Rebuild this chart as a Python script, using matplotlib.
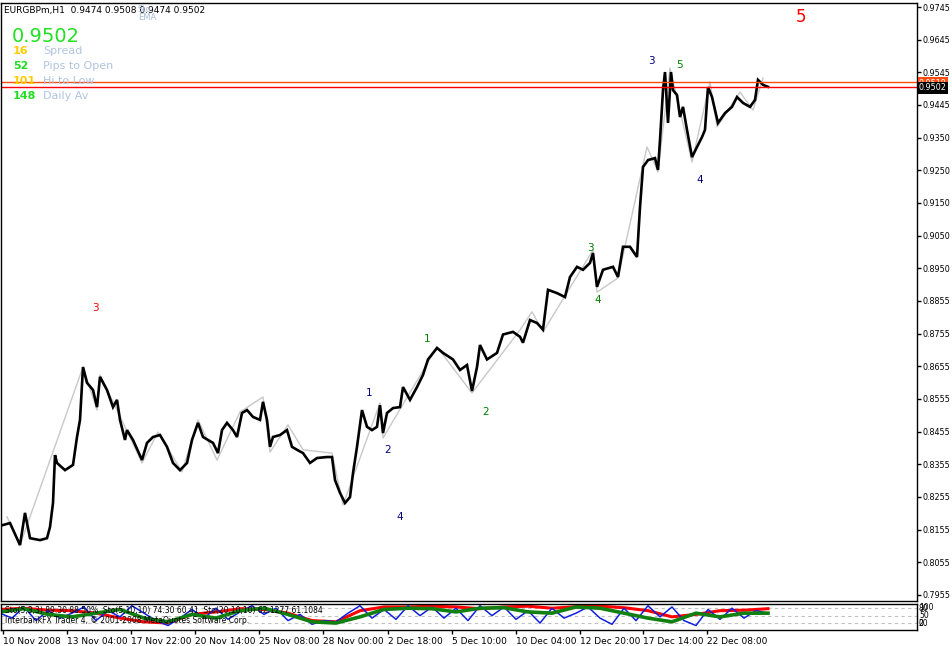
import matplotlib.pyplot as plt

#----------------------Data---------------------------
# bar position (chart pixels) and close price of EURGBPm H1
bar_x = [3, 10, 20, 25, 30, 40, 47, 50, 53, 55, 57, 65, 73, 77, 80, 83, 87, 93, 97, 100,
         107, 113, 117, 120, 125, 127, 133, 142, 147, 153, 160, 167, 173, 180, 187, 192, 198,
         203, 213, 218, 222, 227, 233, 237, 242, 247, 253, 260, 263, 267, 270, 273, 280, 287,
         292, 297, 303, 310, 317, 327, 332, 335, 340, 345, 350, 353, 357, 362, 367, 372, 377,
         380, 383, 387, 393, 400, 403, 410, 417, 423, 428, 437, 443, 453, 460, 467, 472, 477,
         480, 487, 497, 503, 513, 520, 523, 530, 537, 543, 548, 557, 565, 570, 577, 583, 590,
         593, 597, 603, 613, 618, 623, 630, 637, 640, 643, 648, 655, 658, 660, 663, 665, 668,
         671, 673, 677, 680, 683, 687, 692, 697, 702, 705, 708, 712, 715, 718, 725, 732, 737,
         743, 750, 755, 758, 763, 768]
close = [0.8168, 0.8174, 0.8107, 0.8205, 0.8128, 0.8122, 0.8128, 0.8162, 0.8235, 0.8381,
         0.8357, 0.8335, 0.8351, 0.8436, 0.8488, 0.8649, 0.8601, 0.8579, 0.8527, 0.8619,
         0.8579, 0.8527, 0.8549, 0.8488, 0.8427, 0.8457, 0.8427, 0.8366, 0.8418, 0.8436,
         0.8442, 0.8406, 0.8357, 0.8335, 0.8357, 0.8427, 0.8479, 0.8436, 0.8418, 0.8387,
         0.8457, 0.8479, 0.8457, 0.8436, 0.8509, 0.8518, 0.8497, 0.8488, 0.8543, 0.8488,
         0.8406, 0.8436, 0.8442, 0.8457, 0.8406, 0.8397, 0.8387, 0.8357, 0.8372, 0.8375,
         0.8375, 0.8305, 0.8266, 0.8235, 0.8253, 0.8326, 0.8406, 0.8518, 0.8467, 0.8457,
         0.8467, 0.8533, 0.8448, 0.8509, 0.8524, 0.8527, 0.8588, 0.8549, 0.8588, 0.8625,
         0.8672, 0.8707, 0.8692, 0.8672, 0.8640, 0.8655, 0.8576, 0.8649, 0.8716, 0.8672,
         0.8692, 0.8748, 0.8756, 0.8741, 0.8723, 0.8792, 0.8783, 0.8763, 0.8884, 0.8874,
         0.8862, 0.8923, 0.8954, 0.8945, 0.8966, 0.8996, 0.8893, 0.8945, 0.8954, 0.8923,
         0.9015, 0.9015, 0.8984, 0.9136, 0.9258, 0.9279, 0.9285, 0.9249, 0.9340, 0.9492,
         0.9547, 0.9392, 0.9547, 0.9492, 0.9477, 0.9410, 0.9441, 0.9371, 0.9288, 0.9319,
         0.9349, 0.9371, 0.9501, 0.9471, 0.9431, 0.9392, 0.9422, 0.9441, 0.9471, 0.9453,
         0.9441, 0.9462, 0.9523, 0.9508, 0.9502]

# zigzag vertices
zz_x = [7, 20, 83, 97, 100, 118, 142, 158, 182, 198, 217, 240, 263, 270, 288, 303, 332, 343,
        380, 383, 437, 472, 520, 532, 543, 593, 597, 618, 647, 658, 670, 692, 710, 717, 740,
        753, 763]
zz_p = [0.8193, 0.8107, 0.8649, 0.8518, 0.8625, 0.8512, 0.8357, 0.8451, 0.8330, 0.8488,
        0.8366, 0.8512, 0.8558, 0.8390, 0.8473, 0.8397, 0.8387, 0.8229, 0.8540, 0.8433,
        0.8710, 0.8570, 0.8762, 0.8817, 0.8756, 0.9005, 0.8877, 0.8920, 0.9319, 0.9243,
        0.9559, 0.9273, 0.9517, 0.9380, 0.9486, 0.9431, 0.9529]

# wave labels
wave_x = [95, 369, 388, 400, 427, 486, 590, 598, 651, 680, 700, 801]
wave_p = [0.8829, 0.8570, 0.8397, 0.8193, 0.8734, 0.8512, 0.9011, 0.8853, 0.9581, 0.9568,
          0.9218, 0.9715]
wave_txt = ['3', '1', '2', '4', '1', '2', '3', '4', '3', '5', '4', '5']
wave_col = ['red', 'navy', 'navy', 'navy', 'green', 'green', 'green', 'green', 'navy',
            'green', 'navy', 'red']

bid = 0.9502
ask = 0.9518

price_labels = ['0.9745', '0.9645', '0.9545', '0.9445', '0.9350', '0.9250', '0.9150',
                '0.9050', '0.8950', '0.8855', '0.8755', '0.8655', '0.8555', '0.8455',
                '0.8355', '0.8255', '0.8155', '0.8055', '0.7955']
time_pos = [3, 67, 131, 195, 259, 323, 388, 452, 516, 580, 643, 707]
time_labels = ['10 Nov 2008', '13 Nov 04:00', '17 Nov 22:00', '20 Nov 14:00',
               '25 Nov 08:00', '28 Nov 00:00', '2 Dec 18:00', '5 Dec 10:00',
               '10 Dec 04:00', '12 Dec 20:00', '17 Dec 14:00', '22 Dec 08:00']

# stochastic lines
slow_x = list(range(0, 769, 24))
slow = [75, 80, 72, 70, 60, 40, 25, 20, 55, 65, 78, 75, 60, 30, 25, 70, 85, 85, 88, 85,
        78, 85, 88, 80, 86, 88, 82, 70, 45, 55, 70, 72, 78]
mid = [65, 78, 55, 45, 60, 75, 40, 25, 55, 40, 70, 80, 55, 25, 20, 45, 75, 80, 78, 65,
       80, 82, 65, 60, 85, 80, 60, 40, 25, 60, 45, 60, 60]
fast_x = list(range(0, 769, 12))
fast = [60, 40, 85, 30, 70, 40, 60, 85, 30, 70, 45, 90, 60, 30, 10, 40, 75, 40, 80, 35,
        65, 90, 55, 80, 30, 55, 15, 30, 25, 60, 90, 40, 75, 35, 90, 50, 85, 40, 80, 30,
        90, 50, 85, 35, 70, 20, 80, 40, 60, 85, 40, 15, 80, 30, 90, 45, 85, 30, 10, 75,
        35, 80, 40, 70, 60]

#---------------------Figure---------------------------
W, H = 953, 646
fig = plt.figure(figsize=(W / 100, H / 100), dpi=100)
fig.patch.set_facecolor('white')

def fx(px):
    return px / W

def fy(py):
    return 1 - py / H

ax = fig.add_axes([fx(1), fy(601), (917 - 1) / W, (601 - 3) / H])
ax.set_xlim(1, 917)
ax.set_ylim(0.79367, 0.97572)
ax.plot(zz_x, zz_p, color='#c8c8c8', lw=1)
ax.plot(bar_x, close, color='black', lw=1.9, solid_joinstyle='miter')
ax.axhline(ask, color='#ff4a10', lw=1)
ax.axhline(bid, color='red', lw=1)
for x, p, t, c in zip(wave_x, wave_p, wave_txt, wave_col):
    ax.text(x, p, t, color=c, fontsize=12 if (t == '5' and c == 'red') else 7.5,
            ha='center', va='center')

ax.set_xticks([])
ax.yaxis.tick_right()
ax.set_yticks([0.9745 - k * 0.009944 for k in range(len(price_labels))])
ax.set_yticklabels(price_labels)
ax.tick_params(axis='y', length=3, width=1, pad=1, labelsize=5.8)
for s in ax.spines.values():
    s.set_linewidth(1)

# price boxes on the axis
fig.text(fx(919), fy(83), f'{ask:.4f}', fontsize=5.8, color='white', va='center',
         bbox=dict(boxstyle='square,pad=0.15', fc='#ff4a10', ec='none'))
fig.text(fx(919), fy(88), f'{bid:.4f}', fontsize=5.8, color='white', va='center',
         bbox=dict(boxstyle='square,pad=0.15', fc='black', ec='none'))

# header texts
fig.text(fx(4), fy(10), 'EURGBPm,H1  0.9474 0.9508 0.9474 0.9502', fontsize=6.5,
         va='center')
fig.text(fx(138), fy(10), 'Sto', fontsize=6, color='#a8bcd8', va='center')
fig.text(fx(138), fy(18), 'EMA', fontsize=6, color='#a8bcd8', va='center')
fig.text(fx(12), fy(36), f'{bid:.4f}', fontsize=14, color='#22e022', va='center')
info_num = ['16', '52', '101', '148']
info_txt = ['Spread', 'Pips to Open', 'Hi to Low', 'Daily Av']
info_col = ['#ffcc00', '#22dd22', '#ffcc00', '#22dd22']
for i, (n, t, c) in enumerate(zip(info_num, info_txt, info_col)):
    fig.text(fx(13), fy(51 + i * 15), n, fontsize=8, color=c, weight='bold', va='center')
    fig.text(fx(43), fy(51 + i * 15), t, fontsize=8, color='#b0c4de', va='center')

#---------------------Indicator---------------------------
ax2 = fig.add_axes([fx(1), fy(630), (917 - 1) / W, 26 / H])
ax2.set_xlim(1, 917)
ax2.set_ylim(-8, 97)
for lvl in [20, 50, 80]:
    ax2.axhline(lvl, color='#c0c0c0', lw=0.8, ls=(0, (3, 3)))
ax2.plot(slow_x, slow, color='red', lw=2.2)
ax2.plot(fast_x, fast, color='#1020e0', lw=1.1)
ax2.plot(slow_x, mid, color='#108010', lw=2.6)
ax2.text(5, 72, 'Sto(5,3,3) 89.30 88.50%  Sto(5,10,10) 74.30 60.41  Sto(20,10,10) 62.1277 61.1084',
         fontsize=5.5, va='center')
ax2.text(5, 30, 'InterbankFX Trader 4, \u00a9 2001-2008 MetaQuotes Software Corp.',
         fontsize=5.5, va='center')
ax2.set_yticks([])
ax2.set_xticks(time_pos)
ax2.set_xticklabels(time_labels, ha='left')
ax2.tick_params(axis='x', length=3, width=1, pad=2, labelsize=6.5)
for s in ax2.spines.values():
    s.set_linewidth(1)
for lvl, lab in [(80, '80'), (84, '100'), (50, '50'), (20, '20'), (17, '0')]:
    ax2.text(919, lvl, lab, fontsize=5.5, va='center', clip_on=False)

fig.savefig('out.png', dpi=100)
